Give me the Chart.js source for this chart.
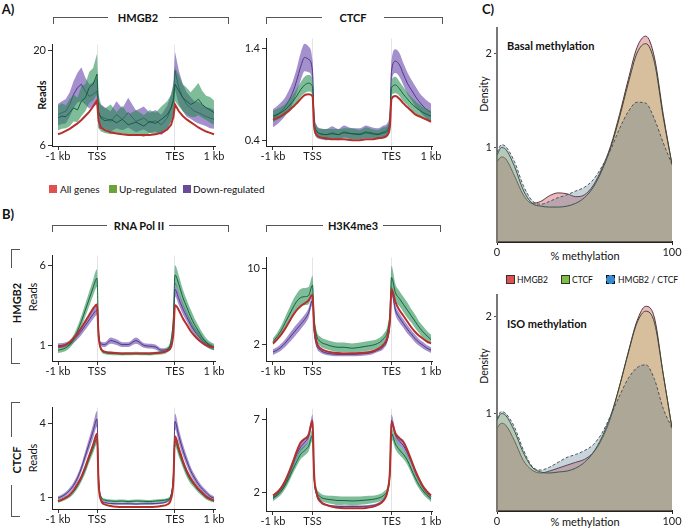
<!DOCTYPE html>
<html><head><meta charset="utf-8">
<script src="https://cdn.jsdelivr.net/npm/chart.js@4.4.1/dist/chart.umd.min.js"></script>
<style>
html,body{margin:0;padding:0;background:#fff;}
body{width:683px;height:531px;position:relative;overflow:hidden;font-family:Lato,"Open Sans",sans-serif;color:#111;}
canvas{position:absolute;}
.t{position:absolute;white-space:nowrap;font-size:11px;line-height:1;transform:translate(-50%,-50%);}
.l{position:absolute;white-space:nowrap;font-size:11px;line-height:1;transform:translate(0,-50%);}
.b{font-weight:bold;}
.r{transform:translate(-50%,-50%) rotate(-90deg);}
.ln{position:absolute;background:#555;}
.sq{position:absolute;width:8px;height:8px;}
</style></head>
<body>
<div class="t b" style="left:8px;top:9px;font-size:13px">A)</div>
<div class="t b" style="left:8px;top:214px;font-size:13px">B)</div>
<div class="t b" style="left:488px;top:9px;font-size:13px">C)</div>

<div class="t b" style="left:138px;top:17px">HMGB2</div>
<div class="t b" style="left:353px;top:17px">CTCF</div>
<div class="t b" style="left:139px;top:225px">RNA Pol II</div>
<div class="t b" style="left:353px;top:225px">H3K4me3</div>

<div class="t b r" style="left:41px;top:95px">Reads</div>
<div class="t r" style="left:32px;top:297px">Reads</div>
<div class="t r" style="left:32px;top:458px">Reads</div>
<div class="t b r" style="left:16px;top:303px">HMGB2</div>
<div class="t b r" style="left:16px;top:460px">CTCF</div>

<div class="sq" style="left:49px;top:185px;background:#e0504f"></div>
<div class="l" style="left:60px;top:189px;font-size:10px">All genes</div>
<div class="sq" style="left:109px;top:185px;background:#6aa33a"></div>
<div class="l" style="left:119px;top:189px;font-size:10px">Up-regulated</div>
<div class="sq" style="left:183px;top:185px;background:#6c4a9a"></div>
<div class="l" style="left:193px;top:189px;font-size:10px">Down-regulated</div>

<div class="l b" style="left:507px;top:45px">Basal methylation</div>
<div class="l b" style="left:507px;top:323px">ISO methylation</div>
<div class="t r" style="left:484px;top:94px;font-size:10.5px">Density</div>
<div class="t r" style="left:484px;top:366px;font-size:10.5px">Density</div>
<div class="t" style="left:585px;top:255px">% methylation</div>
<div class="t" style="left:585px;top:521px">% methylation</div>

<div class="sq" style="left:506px;top:275px;width:7px;height:7px;background:#e05050;border:1px solid #333"></div>
<div class="l" style="left:517px;top:280px;font-size:8.5px">HMGB2</div>
<div class="sq" style="left:561px;top:275px;width:7px;height:7px;background:#7bc043;border:1px solid #333"></div>
<div class="l" style="left:572px;top:280px;font-size:8.5px">CTCF</div>
<div class="sq" style="left:606px;top:275px;width:7px;height:7px;background:#3a8ad0;border:1px dashed #111"></div>
<div class="l" style="left:618px;top:280px;font-size:8.5px">HMGB2 / CTCF</div>

<canvas id="a1"></canvas><canvas id="a2"></canvas>
<canvas id="b1"></canvas><canvas id="b2"></canvas>
<canvas id="c1"></canvas><canvas id="c2"></canvas>
<canvas id="d1"></canvas><canvas id="d2"></canvas>

<script>
// ---------- shared axes ----------
const positions = [0,0.1,0.2,0.3,0.4,0.5,0.6,0.7,0.8,0.9,1.0, 1.04,1.1,1.2,1.35,1.5,1.65,1.8,2.0,2.2,2.35,2.5,2.65,2.8,2.9,2.96, 3.0,3.1,3.2,3.3,3.4,3.5,3.6,3.7,3.8,3.9,4.0];
const xTickValues = [0,1,3,4];
const xTickLabels = ['-1 kb','TSS','TES','1 kb'];

// ---------- A) HMGB2 ----------
const hmgb2A_all = [7.6,7.8,8.1,8.4,8.8,9.2,9.7,10.3,10.9,11.7,12.6, 9.6,8.6,8.2,7.9,7.7,7.6,7.5,7.5,7.5,7.5,7.6,7.8,8.3,9.0,10.2, 12.0,11.0,10.3,9.8,9.4,9.0,8.6,8.3,8.0,7.8,7.6];
const hmgb2A_up = [10.0,10.3,10.2,10.8,11.5,11.2,12.5,13.0,14.5,15.0,16.5, 11.0,10.0,9.6,9.8,9.3,9.8,9.0,9.4,8.8,9.5,9.2,9.8,10.5,11.5,12.5, 15.0,14.0,13.0,12.5,12.0,12.3,12.8,12.0,11.5,11.2,10.8];
const hmgb2A_upErr = [1.8,1.9,1.7,2.0,2.0,1.8,2.2,2.0,2.3,2.4,3.0, 2.5,2.0,1.8,2.2,1.6,2.0,1.5,1.8,1.6,1.7,1.6,1.9,2.0,2.0,2.3, 2.5,2.3,2.0,2.0,1.8,2.2,2.4,2.0,1.8,1.9,1.8];
const hmgb2A_down = [10.5,10.8,11.0,12.0,13.5,14.5,15.0,14.0,13.2,13.5,14.0, 10.5,10.2,10.0,9.5,10.5,9.8,10.8,9.5,10.0,9.3,9.6,9.0,10.0,11.5,13.0, 17.0,14.5,13.0,12.0,11.5,11.0,10.8,10.5,10.2,10.0,9.8];
const hmgb2A_downErr = [1.6,1.7,1.8,1.8,2.0,2.2,2.5,2.0,1.8,1.8,2.0, 2.0,1.8,1.6,1.5,2.0,1.6,2.2,1.6,1.7,1.5,1.6,1.5,1.8,2.0,2.2, 2.8,2.5,2.0,1.8,1.6,1.5,1.6,1.5,1.4,1.5,1.4];

// ---------- A) CTCF ----------
const ctcfA_all = [0.62,0.64,0.66,0.69,0.72,0.76,0.8,0.85,0.89,0.9,0.88, 0.55,0.46,0.43,0.42,0.41,0.41,0.41,0.4,0.4,0.41,0.41,0.42,0.43,0.46,0.55, 0.85,0.88,0.85,0.8,0.76,0.72,0.68,0.66,0.64,0.62,0.6];
const ctcfA_up = [0.66,0.68,0.7,0.73,0.77,0.82,0.88,0.95,1.0,1.02,0.98, 0.6,0.5,0.47,0.46,0.47,0.46,0.48,0.47,0.46,0.48,0.47,0.46,0.48,0.5,0.6, 0.97,1.0,0.96,0.9,0.85,0.8,0.76,0.73,0.7,0.68,0.66];
const ctcfA_upErr = [0.06,0.06,0.06,0.06,0.07,0.07,0.08,0.08,0.09,0.09,0.08, 0.07,0.06,0.05,0.06,0.05,0.06,0.05,0.06,0.05,0.06,0.05,0.05,0.06,0.06,0.07, 0.08,0.09,0.08,0.08,0.07,0.07,0.07,0.06,0.06,0.06,0.06];
const ctcfA_down = [0.64,0.67,0.71,0.76,0.83,0.92,1.05,1.2,1.3,1.28,1.15, 0.65,0.5,0.47,0.46,0.48,0.46,0.49,0.47,0.47,0.49,0.48,0.47,0.49,0.52,0.65, 1.15,1.26,1.22,1.12,1.02,0.95,0.88,0.82,0.77,0.73,0.7];
const ctcfA_downErr = [0.1,0.1,0.1,0.1,0.11,0.12,0.13,0.15,0.15,0.14,0.12, 0.1,0.07,0.06,0.06,0.07,0.06,0.07,0.06,0.06,0.07,0.06,0.06,0.07,0.07,0.1, 0.12,0.13,0.13,0.12,0.12,0.11,0.11,0.1,0.1,0.1,0.1];

// ---------- B) RNA Pol II, HMGB2 row ----------
const polH_all = [0.9,0.95,1.05,1.2,1.45,1.75,2.1,2.5,2.9,3.3,3.55, 1.6,0.8,0.6,0.55,0.52,0.5,0.5,0.5,0.5,0.5,0.52,0.56,0.65,0.9,1.8, 3.5,3.2,2.7,2.3,1.9,1.6,1.35,1.15,1.0,0.92,0.88];
const polH_up = [0.7,0.75,0.85,1.05,1.4,1.9,2.5,3.2,3.9,4.6,5.2, 2.0,0.8,0.55,0.5,0.48,0.47,0.48,0.5,0.48,0.47,0.5,0.55,0.7,1.3,2.8, 5.4,4.8,4.0,3.4,2.8,2.3,1.9,1.5,1.2,1.0,0.9];
const polH_upErr = [0.18,0.18,0.2,0.22,0.25,0.3,0.35,0.4,0.45,0.5,0.55, 0.3,0.15,0.1,0.1,0.1,0.1,0.1,0.1,0.1,0.1,0.1,0.12,0.15,0.25,0.4, 0.6,0.55,0.5,0.45,0.45,0.4,0.35,0.3,0.25,0.22,0.2];
const polH_down = [0.98,1.0,1.05,1.15,1.35,1.6,1.9,2.25,2.6,2.95,3.2, 1.7,1.1,1.05,1.3,1.2,1.05,1.05,1.3,1.0,0.95,0.9,0.7,0.75,1.0,2.0, 4.5,3.9,3.3,2.8,2.3,1.9,1.6,1.3,1.1,0.95,0.85];
const polH_downErr = [0.15,0.15,0.15,0.17,0.2,0.22,0.25,0.28,0.3,0.3,0.3, 0.25,0.15,0.15,0.2,0.18,0.15,0.15,0.2,0.15,0.15,0.15,0.12,0.12,0.15,0.25, 0.45,0.4,0.35,0.3,0.28,0.25,0.22,0.2,0.18,0.16,0.15];

// ---------- B) H3K4me3, HMGB2 row ----------
const h3H_all = [2.1,2.5,3.0,3.6,4.3,5.0,5.6,6.0,6.3,6.6,7.2, 4.0,2.3,1.6,1.3,1.15,1.1,1.05,1.05,1.1,1.15,1.25,1.5,2.0,2.8,4.5, 7.8,6.4,5.6,5.0,4.4,3.8,3.3,2.9,2.6,2.3,2.1];
const h3H_up = [2.3,2.8,3.4,4.2,5.0,5.8,6.5,6.9,7.0,7.1,8.2, 4.8,3.0,2.3,2.0,1.8,1.7,1.7,1.6,1.7,1.8,1.9,2.1,2.6,3.4,5.2, 9.0,7.4,6.8,6.2,5.6,5.0,4.4,3.8,3.3,2.9,2.5];
const h3H_upErr = [0.35,0.4,0.5,0.6,0.7,0.8,0.8,0.9,0.9,0.9,1.0, 0.7,0.5,0.5,0.5,0.5,0.5,0.5,0.5,0.5,0.5,0.5,0.5,0.5,0.6,0.8, 1.2,0.9,0.8,0.8,0.8,0.7,0.7,0.6,0.6,0.5,0.5];
const h3H_down = [1.2,1.4,1.7,2.1,2.6,3.1,3.6,4.1,4.6,5.3,6.6, 3.5,2.0,1.4,1.1,1.0,0.95,0.95,0.95,1.0,1.05,1.15,1.4,1.8,2.6,4.2, 7.6,5.6,4.8,4.2,3.6,3.1,2.6,2.2,1.9,1.6,1.4];
const h3H_downErr = [0.3,0.3,0.35,0.4,0.45,0.5,0.5,0.5,0.5,0.5,0.5, 0.4,0.3,0.25,0.2,0.2,0.2,0.2,0.2,0.2,0.2,0.2,0.2,0.25,0.3,0.4, 0.5,0.5,0.5,0.45,0.45,0.4,0.4,0.35,0.35,0.3,0.3];

// ---------- B) RNA Pol II, CTCF row ----------
const polC_all = [0.85,0.92,1.0,1.12,1.3,1.55,1.85,2.25,2.7,3.15,3.6, 1.6,0.9,0.72,0.66,0.63,0.62,0.62,0.62,0.62,0.62,0.63,0.66,0.72,0.95,1.7, 3.5,3.0,2.5,2.1,1.8,1.55,1.35,1.2,1.05,0.95,0.87];
const polC_up = [0.85,0.9,0.98,1.08,1.25,1.48,1.78,2.15,2.6,3.0,3.4, 1.7,1.05,0.9,0.86,0.85,0.86,0.84,0.86,0.85,0.84,0.86,0.88,0.92,1.1,1.8, 3.3,2.85,2.4,2.0,1.7,1.5,1.3,1.15,1.0,0.92,0.86];
const polC_upErr = [0.06,0.06,0.07,0.08,0.1,0.12,0.14,0.16,0.18,0.2,0.22, 0.1,0.07,0.06,0.06,0.06,0.06,0.06,0.06,0.06,0.06,0.06,0.06,0.06,0.08,0.12, 0.22,0.2,0.18,0.16,0.14,0.12,0.1,0.09,0.08,0.07,0.06];
const polC_down = [0.98,1.05,1.15,1.3,1.5,1.8,2.2,2.7,3.2,3.7,4.2, 1.9,0.95,0.8,0.76,0.75,0.75,0.75,0.74,0.75,0.75,0.76,0.78,0.85,1.1,2.0, 4.1,3.5,2.95,2.5,2.1,1.8,1.55,1.35,1.2,1.05,0.98];
const polC_downErr = [0.08,0.08,0.09,0.1,0.12,0.14,0.16,0.2,0.24,0.28,0.32, 0.12,0.05,0.04,0.04,0.04,0.04,0.04,0.04,0.04,0.04,0.04,0.04,0.05,0.08,0.14, 0.32,0.28,0.24,0.2,0.17,0.15,0.13,0.11,0.1,0.09,0.08];

// ---------- B) H3K4me3, CTCF row ----------
const h3C_all = [1.8,2.0,2.3,2.75,3.35,4.05,4.8,5.4,5.65,5.9,6.9, 3.3,2.0,1.4,1.15,1.02,0.96,0.93,0.92,0.93,0.95,1.0,1.15,1.45,2.1,3.5, 6.8,6.0,5.7,5.45,4.9,4.2,3.5,2.9,2.4,2.05,1.8];
const h3C_up = [1.6,1.8,2.05,2.45,2.95,3.55,4.1,4.6,4.85,5.15,5.9, 3.0,2.1,1.7,1.55,1.5,1.45,1.45,1.42,1.45,1.48,1.52,1.6,1.8,2.2,3.2, 6.0,5.3,4.9,4.6,4.2,3.6,3.0,2.5,2.1,1.8,1.55];
const h3C_upErr = [0.2,0.2,0.22,0.25,0.28,0.3,0.32,0.34,0.34,0.35,0.4, 0.3,0.25,0.25,0.25,0.28,0.3,0.28,0.3,0.28,0.28,0.25,0.25,0.25,0.25,0.3, 0.4,0.35,0.34,0.33,0.32,0.3,0.28,0.25,0.22,0.2,0.2];
const h3C_down = [1.7,1.9,2.2,2.6,3.2,3.9,4.6,5.1,5.4,5.8,6.9, 3.2,1.9,1.35,1.15,1.08,1.05,1.05,1.05,1.05,1.06,1.1,1.2,1.5,2.1,3.5, 6.9,5.9,5.5,5.2,4.7,4.1,3.4,2.85,2.35,2.0,1.72];
const h3C_downErr = [0.15,0.15,0.17,0.2,0.22,0.25,0.28,0.3,0.3,0.32,0.4, 0.2,0.12,0.08,0.07,0.07,0.07,0.07,0.07,0.07,0.07,0.08,0.1,0.12,0.15,0.25, 0.4,0.3,0.28,0.27,0.25,0.22,0.2,0.18,0.16,0.15,0.15];

// ---------- C) methylation density ----------
const methX = [0,2.5,5,10,15,20,25,30,35,40,45,50,55,60,65,70,75,80,85,90,95,100];
const basal_hmgb2 = [0.85,0.9,0.88,0.7,0.5,0.41,0.43,0.49,0.52,0.51,0.48,0.5,0.6,0.78,1.02,1.35,1.72,2.06,2.18,1.95,1.35,0.82];
const basal_ctcf  = [0.92,1.0,0.98,0.8,0.55,0.41,0.38,0.37,0.37,0.38,0.41,0.47,0.58,0.76,1.0,1.32,1.68,2.0,2.1,1.9,1.32,0.82];
const basal_both  = [0.95,1.03,1.01,0.85,0.6,0.44,0.4,0.43,0.47,0.5,0.54,0.58,0.66,0.8,0.98,1.2,1.38,1.48,1.47,1.3,1.05,0.82];
const iso_hmgb2 = [0.85,0.9,0.88,0.72,0.52,0.42,0.39,0.41,0.44,0.47,0.5,0.53,0.6,0.74,0.96,1.28,1.63,1.95,2.1,1.98,1.4,0.85];
const iso_ctcf  = [0.93,1.0,0.98,0.82,0.6,0.45,0.4,0.39,0.4,0.41,0.44,0.5,0.6,0.76,0.98,1.28,1.62,1.93,2.05,1.93,1.4,0.85];
const iso_both  = [0.95,1.02,1.0,0.86,0.63,0.46,0.42,0.45,0.5,0.55,0.58,0.62,0.68,0.8,0.98,1.18,1.36,1.47,1.5,1.35,1.05,0.85];
const methTickValues = [0,100];
const densTickValues = [1,2];

// ---------- styling ----------
const FONT = {family:'Lato, "Open Sans", sans-serif', size:11};
const RED_LINE = '#b5302c';
const GREEN_FILL = 'rgba(34,140,80,0.58)', GREEN_LINE = 'rgba(10,90,50,0.9)';
const PURPLE_FILL = 'rgba(108,76,172,0.62)', PURPLE_LINE = 'rgba(70,45,130,0.9)';

function hline(x1,x2,y){const d=document.createElement('div');d.className='ln';d.style.cssText=`left:${x1}px;top:${y}px;width:${x2-x1}px;height:1px`;document.body.appendChild(d);}
function vline(x,y1,y2){const d=document.createElement('div');d.className='ln';d.style.cssText=`left:${x}px;top:${y1}px;width:1px;height:${y2-y1}px`;document.body.appendChild(d);}
function topBracket(x1,x2,g1,g2,y){hline(x1,g1,y);hline(g2,x2+1,y);vline(x1,y,y+7);vline(x2,y,y+7);}
function sideBracket(x,y1,g1,g2,y2){vline(x,y1,g1);vline(x,g2,y2+1);hline(x,x+9,y1);hline(x,x+9,y2);}
topBracket(53,228,108,169,17); topBracket(266,442,322,384,17);
topBracket(52,228,107,169,225); topBracket(266,440,323,383,225);
sideBracket(11,249,268,338,363); sideBracket(11,402,437,485,516);

function place(c,box,PL,PT,PR,PB){
  const W=box[2]-box[0]+PL+PR, H=box[3]-box[1]+PT+PB;
  c.style.left=(box[0]-PL)+'px'; c.style.top=(box[1]-PT)+'px';
  c.width=W; c.height=H; c.style.width=W+'px'; c.style.height=H+'px';
}
function xy(xs,ys){return xs.map((x,i)=>({x,y:ys[i]}));}
function shift(ys,err,sign){return ys.map((v,i)=>v+sign*err[i]);}

function profile(id,box,xr,yr,yTicks,smooth,all,up,upErr,down,downErr){
  const c=document.getElementById(id); place(c,box,40,6,18,22);
  const common={pointRadius:0,borderWidth:0,tension:0,cubicInterpolationMode:smooth?'monotone':'default'};
  const ds=[
    Object.assign({},common,{data:xy(positions,shift(down,downErr,-1)),fill:false,order:9}),
    Object.assign({},common,{data:xy(positions,shift(down,downErr,1)),fill:'-1',backgroundColor:PURPLE_FILL,order:8}),
    Object.assign({},common,{data:xy(positions,down),borderWidth:1,borderColor:PURPLE_LINE,fill:false,order:7}),
    Object.assign({},common,{data:xy(positions,shift(up,upErr,-1)),fill:false,order:6}),
    Object.assign({},common,{data:xy(positions,shift(up,upErr,1)),fill:'-1',backgroundColor:GREEN_FILL,order:5}),
    Object.assign({},common,{data:xy(positions,up),borderWidth:1,borderColor:GREEN_LINE,fill:false,order:4}),
    Object.assign({},common,{data:xy(positions,all),borderWidth:2,borderColor:RED_LINE,fill:false,order:1})
  ];
  new Chart(c,{type:'line',data:{datasets:ds},options:{
    responsive:false,animation:false,events:[],
    layout:{padding:{left:0,top:6,right:18,bottom:0}},
    plugins:{legend:{display:false},tooltip:{enabled:false}},
    scales:{
      x:{type:'linear',min:xr[0],max:xr[1],
        afterFit:s=>{s.height=22;},
        afterBuildTicks:s=>{s.ticks=xTickValues.map(v=>({value:v}));},
        ticks:{autoSkip:false,maxRotation:0,padding:0,color:'#222',font:FONT,callback:v=>xTickLabels[xTickValues.indexOf(v)]},
        grid:{drawOnChartArea:true,tickLength:4,tickColor:'#333',color:ctx=>(ctx.tick&&(ctx.tick.value===1||ctx.tick.value===3))?'#e4e4e4':'rgba(0,0,0,0)'},
        border:{color:'#222',width:1}},
      y:{type:'linear',min:yr[0],max:yr[1],
        afterFit:s=>{s.width=40;},
        afterBuildTicks:s=>{s.ticks=yTicks.map(v=>({value:v}));},
        ticks:{padding:2,color:'#222',font:FONT,callback:v=>String(v)},
        grid:{drawOnChartArea:false,tickLength:4,tickColor:'#333'},
        border:{color:'#222',width:1}}
    }}});
}

profile('a1',[52,42,215,146],[-0.154,4.026],[5.86,20.87],[6,20],false,hmgb2A_all,hmgb2A_up,hmgb2A_upErr,hmgb2A_down,hmgb2A_downErr);
profile('a2',[266,36,432,146],[-0.177,4.025],[0.336,1.506],[0.4,1.4],true,ctcfA_all,ctcfA_up,ctcfA_upErr,ctcfA_down,ctcfA_downErr);
profile('b1',[52,253,215,361],[-0.154,4.026],[0.024,6.61],[1,6],true,polH_all,polH_up,polH_upErr,polH_down,polH_downErr);
profile('b2',[266,255,432,361],[-0.177,4.025],[0.264,11.09],[2,10],true,h3H_all,h3H_up,h3H_upErr,h3H_down,h3H_downErr);
profile('c1',[52,405,215,509],[-0.154,4.026],[0.536,4.663],[1,4],true,polC_all,polC_up,polC_upErr,polC_down,polC_downErr);
profile('c2',[266,406,432,511],[-0.177,4.025],[0.738,7.71],[2,7],true,h3C_all,h3C_up,h3C_upErr,h3C_down,h3C_downErr);

function density(id,box,yMax,hm,ct,both){
  const c=document.getElementById(id); place(c,box,20,4,14,22);
  const common={pointRadius:0,borderWidth:1,cubicInterpolationMode:'monotone',fill:'origin'};
  const ds=[
    Object.assign({},common,{data:xy(methX,hm),backgroundColor:'rgba(190,25,40,0.3)',borderColor:'#5c3540',order:3}),
    Object.assign({},common,{data:xy(methX,ct),backgroundColor:'rgba(170,200,80,0.3)',borderColor:'#3a4a36',order:2}),
    Object.assign({},common,{data:xy(methX,both),backgroundColor:'rgba(72,112,135,0.3)',borderColor:'#4a5560',borderDash:[3,2],order:1})
  ];
  new Chart(c,{type:'line',data:{datasets:ds},options:{
    responsive:false,animation:false,events:[],
    layout:{padding:{left:0,top:4,right:14,bottom:0}},
    plugins:{legend:{display:false},tooltip:{enabled:false}},
    scales:{
      x:{type:'linear',min:0,max:100,
        afterFit:s=>{s.height=22;},
        afterBuildTicks:s=>{s.ticks=methTickValues.map(v=>({value:v}));},
        ticks:{autoSkip:false,maxRotation:0,padding:1,color:'#222',font:FONT},
        grid:{drawOnChartArea:false,tickLength:3,tickColor:'#222'},
        border:{color:'#222',width:2}},
      y:{type:'linear',min:0,max:yMax,
        afterFit:s=>{s.width=20;},
        afterBuildTicks:s=>{s.ticks=densTickValues.map(v=>({value:v}));},
        ticks:{padding:2,color:'#222',font:FONT},
        grid:{drawOnChartArea:false,tickLength:3,tickColor:'#555'},
        border:{color:'#777',width:2}}
    }}});
}
density('d1',[497,23,672,242],2.27,basal_hmgb2,basal_ctcf,basal_both);
density('d2',[497,290,672,511],2.22,iso_hmgb2,iso_ctcf,iso_both);
</script>
</body></html>
